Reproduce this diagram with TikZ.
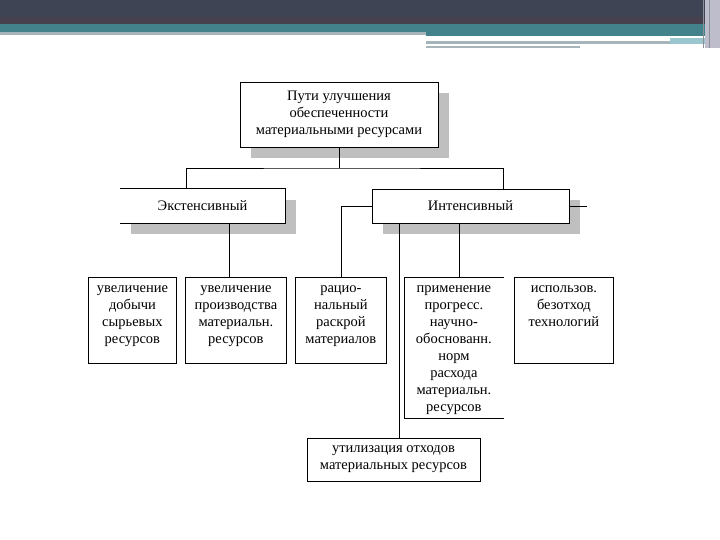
\documentclass[tikz,border=0pt]{standalone}
\usepackage{fontspec}
\setmainfont{Liberation Serif}
\usetikzlibrary{shadows}

\definecolor{barDark}{HTML}{3F4454}
\definecolor{barPurple}{HTML}{46404F}
\definecolor{barTeal}{HTML}{43828A}
\definecolor{barGrey}{HTML}{A5B5B9}
\definecolor{barBlue}{HTML}{9CC6CE}
\definecolor{barEdge}{HTML}{BDBDCB}
\definecolor{shadowgray}{HTML}{BFBFBF}

\begin{document}
\begin{tikzpicture}[
    x=1pt, y=-1pt,
    box/.style={draw, fill=white, line width=0.8pt, align=center, inner sep=0pt, font=\fontsize{14.5}{17}\selectfont},
    shadowed/.style={drop shadow={shadow xshift=11pt, shadow yshift=-11pt, fill=shadowgray, opacity=1}},
    leaf/.style={box, anchor=north west, text height=15.5pt},
    line/.style={line width=0.8pt}
  ]
    \useasboundingbox (0,0) rectangle (720,540);

    % slide header
    \fill[barDark] (0,0) rectangle (705,17);
    \fill[barPurple] (0,17) rectangle (705,24);
    \fill[barTeal] (0,24) rectangle (705,32);
    \fill[barTeal] (426,32) rectangle (705,36);
    \fill[barGrey] (0,32) rectangle (426,35);
    \fill[barGrey] (426,41) rectangle (670,44);
    \fill[barBlue] (670,38) rectangle (705,44);
    \fill[barGrey] (426,46) rectangle (580,48);
    \fill[barEdge] (705,0) rectangle (720,48);
    \draw[barDark!60, line width=1pt] (703,0) -- (703,48) (709,0) -- (709,48);

    % upper levels
    \node[box, shadowed, minimum width=198pt, minimum height=65pt] (top) at (339,114.5)
      {Пути улучшения\\обеспеченности\\материальными ресурсами};
    \node[box, draw=none, shadowed, minimum width=165pt, minimum height=34pt] (ext) at (202.5,206) {Экстенсивный};
    \node[box, shadowed, minimum width=197pt, minimum height=34pt] (int) at (470.5,206) {Интенсивный};
    \draw[line] (ext.north west) -- (ext.north east) -- (ext.south east) -- (ext.south west);

    % lower level
    \node[leaf, text width=88pt, text depth=70.5pt] (b1) at (88,277) {увеличение\\добычи\\сырьевых\\ресурсов};
    \node[leaf, text width=101pt, text depth=70.5pt] (b2) at (185,277) {увеличение\\производства\\материальн.\\ресурсов};
    \node[leaf, text width=91pt, text depth=70.5pt] (b3) at (295,277) {рацио-\\нальный\\раскрой\\материалов};
    \node[leaf, draw=none, text width=99pt, text depth=125.5pt] (b4) at (404,277)
      {применение\\прогресс.\\научно-\\обоснованн.\\норм\\расхода\\материальн.\\ресурсов};
    \node[leaf, text width=99pt, text depth=70.5pt] (b5) at (514,277) {использов.\\безотход\\технологий};
    \draw[line] (b4.north east) -- (b4.north west) -- (b4.south west) -- (b4.south east);
    \node[box, minimum width=173pt, minimum height=43pt] (util) at (393.5,459.5)
      {утилизация отходов\\материальных ресурсов};

    % connectors
    \coordinate (hub) at (339,168);
    \coordinate (stub) at (587,206);
    \draw[line] (top.south) -- (hub);
    \draw[line] ([xshift=-16.5pt]ext.north) |- (hub) -| ([xshift=33pt]int.north);
    \draw[line] ([xshift=26.5pt]ext.south) -- ([xshift=26.5pt]ext.south |- b2.north);
    \draw[line] (int.west) -| (b3.north);
    \draw[line] ([xshift=-71pt]int.south) -- ([xshift=-71pt]int.south |- util.north);
    \draw[line] ([xshift=-11.5pt]int.south) -- ([xshift=-11.5pt]int.south |- b4.north);
    \draw[line] (int.east) -- (stub);
\end{tikzpicture}
\end{document}
